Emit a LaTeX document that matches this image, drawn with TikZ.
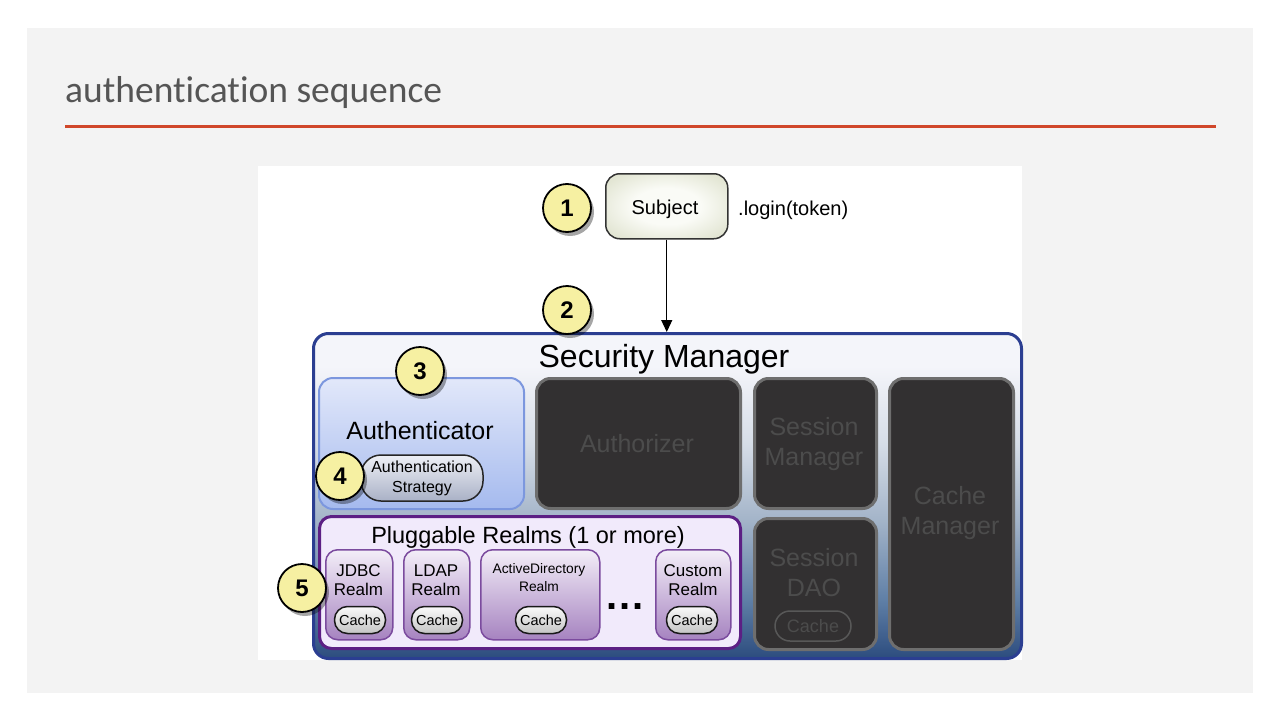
\documentclass[tikz,border=0pt]{standalone}
\usepackage{fontspec}
\setmainfont{Liberation Sans}
\newfontfamily\titlefont[Ligatures=NoCommon]{Carlito}
\usetikzlibrary{shadows,arrows.meta}
\definecolor{panel}{HTML}{F3F3F3}
\definecolor{titlered}{HTML}{D0472A}
\definecolor{titlegray}{HTML}{555555}
\definecolor{circY}{HTML}{F6F0A2}
\definecolor{subjIn}{HTML}{FAFBF6}
\definecolor{subjOut}{HTML}{D4D8BE}
\definecolor{smBorder}{HTML}{2B3E91}
\definecolor{smC1}{HTML}{2C4C7E}
\definecolor{smC2}{HTML}{5F7FA6}
\definecolor{smC3}{HTML}{A2B3C8}
\definecolor{smC4}{HTML}{D6DDE7}
\definecolor{smC5}{HTML}{F4F5FA}
\definecolor{darkFill}{HTML}{323031}
\definecolor{darkBorder}{HTML}{6E6E6E}
\definecolor{darkText}{HTML}{4C4C4C}
\definecolor{authTop}{HTML}{E2E8FA}
\definecolor{authBot}{HTML}{A5BAEE}
\definecolor{authBorder}{HTML}{7C97DE}
\definecolor{stratTop}{HTML}{EEF0F6}
\definecolor{stratBot}{HTML}{A9B1C6}
\definecolor{plugFill}{HTML}{F1EAFB}
\definecolor{plugBorder}{HTML}{5C1F84}
\definecolor{realmTop}{HTML}{F3EEF8}
\definecolor{realmMid}{HTML}{D8C6E6}
\definecolor{realmBot}{HTML}{A683C0}
\definecolor{realmBorder}{HTML}{7B4B9E}
\definecolor{cacheTop}{HTML}{FAFAFA}
\definecolor{cacheBot}{HTML}{C4C4C4}
\pgfdeclareverticalshading{smshade}{100bp}{color(0bp)=(smC1); color(25bp)=(smC1); color(34bp)=(smC2); color(46bp)=(smC3); color(58bp)=(smC4); color(70bp)=(smC5); color(100bp)=(smC5)}
\pgfdeclareradialshading{subjshade}{\pgfpoint{0bp}{0bp}}{color(0bp)=(subjIn); color(14bp)=(subjIn); color(30bp)=(subjOut!60!subjIn); color(50bp)=(subjOut)}
\tikzset{
  numcirc/.style={circle, draw=black, line width=1.8pt, fill=circY, minimum size=48pt, inner sep=0pt,
    font=\fontsize{24}{24}\selectfont\bfseries,
    drop shadow={shadow xshift=3pt, shadow yshift=-4pt, opacity=0.35, fill=black}},
  subjbox/.style={draw=black!80, line width=1.5pt, rounded corners=14pt, shading=subjshade,
    minimum width=122pt, minimum height=65pt, anchor=north west, font=\fontsize{20}{24}\selectfont},
  smbox/.style={draw=smBorder, line width=3pt, rounded corners=15pt, shading=smshade, anchor=north west, inner sep=0pt},
  darkbox/.style={draw=darkBorder, line width=3pt, fill=darkFill, rounded corners=14pt, anchor=north west, inner sep=0pt},
  darklabel/.style={text=darkText, align=center, font=\fontsize{25}{30}\selectfont},
  authbox/.style={draw=authBorder, line width=2pt, top color=authTop, bottom color=authBot, rounded corners=14pt, anchor=north west, inner sep=0pt},
  stratpill/.style={draw=black!85, line width=1.5pt, top color=stratTop, bottom color=stratBot, rounded corners=20pt,
    minimum width=122pt, minimum height=46pt, inner sep=0pt, align=center, font=\fontsize{16}{20}\selectfont},
  plugbox/.style={draw=plugBorder, line width=3pt, fill=plugFill, rounded corners=12pt, anchor=north west, inner sep=0pt},
  realmbox/.style={draw=realmBorder, line width=1.5pt, top color=realmTop, middle color=realmMid, bottom color=realmBot,
    rounded corners=12pt, anchor=north west, inner sep=0pt, minimum height=90pt},
  realmlabel/.style={align=center, font=\fontsize{17}{19}\selectfont, inner sep=0pt},
  cachepill/.style={draw=black!90, line width=1.5pt, top color=cacheTop, bottom color=cacheBot, rounded corners=13pt,
    minimum width=51pt, minimum height=27pt, inner sep=0pt, font=\fontsize{14.5}{14.5}\selectfont},
  daocache/.style={draw=darkBorder!80!black, line width=1.5pt, rounded corners=15pt,
    minimum width=76pt, minimum height=30pt, inner sep=0pt, text=darkText, font=\fontsize{18}{18}\selectfont},
}
\begin{document}
\begin{tikzpicture}[x=1pt,y=-1pt]
\useasboundingbox (0,0) rectangle (1280,720);
\fill[white] (0,0) rectangle (1280,720);
\fill[panel] (27,28) rectangle (1253,693);
\fill[white] (258,166) rectangle (1022,660);

% title
\node[anchor=base west, inner sep=0pt, text=titlegray, font=\titlefont\fontsize{37.5}{37.5}\selectfont] (title) at (65,102) {authentication sequence};
\coordinate (ruleL) at (65,126);
\coordinate (ruleR) at (1216,126);
\draw[titlered, line width=3pt] (ruleL) -- (ruleR);

% Security Manager
\node[smbox, minimum width=708pt, minimum height=325pt] (sm) at (312,332) {};
\node[anchor=base, inner sep=0pt, font=\fontsize{32}{32}\selectfont] (smlabel) at (664,367) {Security Manager};

% Subject
\node[subjbox] (subject) at (605,173) {};
\node[anchor=base, inner sep=0pt, font=\fontsize{20}{24}\selectfont] (subjlabel) at (665,214) {Subject};
\node[anchor=base west, inner sep=0pt, font=\fontsize{20}{24}\selectfont] (login) at (738,215) {.login(token)};
\draw[line width=1.3pt, -{Triangle[length=12pt,width=11pt]}] (subject.south) -- (subject.south |- sm.north);

% Authenticator
\node[authbox, minimum width=205pt, minimum height=131pt] (auth) at (318,377) {};
\node[font=\fontsize{25}{25}\selectfont, anchor=base, inner sep=0pt] (authlabel) at (420,439) {Authenticator};
\node[stratpill] (strat) at (422,478) {Authentication\\Strategy};

% dark boxes
\node[darkbox, minimum width=204pt, minimum height=130pt] (authz) at (535,377) {};
\node[darklabel] (authzlabel) at (637,444) {Authorizer};
\node[darkbox, minimum width=122pt, minimum height=130pt] (sessmgr) at (753,377) {};
\node[darklabel] (sessmgrlabel) at (814,444) {Session\\Manager};
\node[darkbox, minimum width=124pt, minimum height=271pt] (cachemgr) at (888,377) {};
\node[darklabel] (cachemgrlabel) at (950,513) {Cache\\Manager};
\node[darkbox, minimum width=122pt, minimum height=131pt] (sessdao) at (753,517) {};
\node[darklabel] (sessdaolabel) at (814,573) {Session\\DAO};
\node[daocache] (daocache) at (813,626) {Cache};

% Pluggable realms
\node[plugbox, minimum width=421pt, minimum height=132pt] (plug) at (318,515) {};
\node[anchor=base, inner sep=0pt, font=\fontsize{23.5}{24}\selectfont] (pluglabel) at (528,543) {Pluggable Realms (1 or more)};

\node[realmbox, minimum width=67pt] (jdbc) at (325,549) {};
\node[realmlabel] (jdbclabel) at (358.5,580) {JDBC\\Realm};
\node[cachepill] (jdbccache) at (360,620) {Cache};

\node[realmbox, minimum width=66pt] (ldap) at (403,549) {};
\node[realmlabel] (ldaplabel) at (436,580) {LDAP\\Realm};
\node[cachepill] (ldapcache) at (437,620) {Cache};

\node[realmbox, minimum width=119pt] (ad) at (480,549) {};
\node[realmlabel, font=\fontsize{13.8}{18}\selectfont] (adlabel) at (539,578) {ActiveDirectory\\Realm};
\node[cachepill] (adcache) at (541,620) {Cache};

\node[anchor=base, font=\fontsize{40}{40}\selectfont\bfseries, inner sep=0pt] (dots) at (625,609) {.\hspace{2pt}.\hspace{2pt}.};

\node[realmbox, minimum width=75pt] (custom) at (655,549) {};
\node[realmlabel] (customlabel) at (693,580) {Custom\\Realm};
\node[cachepill] (customcache) at (692,620) {Cache};

% numbered circles
\node[numcirc] (n1) at (567,208) {1};
\node[numcirc] (n2) at (567,310) {2};
\node[numcirc] (n3) at (420,371) {3};
\node[numcirc] (n4) at (340,476) {4};
\node[numcirc] (n5) at (302,588) {5};
\end{tikzpicture}
\end{document}
